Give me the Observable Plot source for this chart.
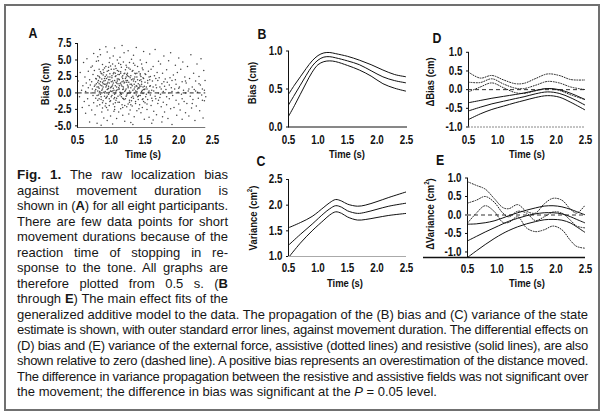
<!DOCTYPE html>
<html><head><meta charset="utf-8">
<script src="https://cdn.jsdelivr.net/npm/d3@7"></script>
<script src="https://cdn.jsdelivr.net/npm/@observablehq/plot@0.6"></script>
<style>
html,body{margin:0;padding:0;background:#fff;}
#fig{position:relative;width:605px;height:420px;overflow:hidden;background:#fff;}
#fig svg{position:absolute;left:0;top:0;}
.frame{position:absolute;left:4px;top:4px;width:592px;height:403px;border:2px solid #707070;}
.lab{position:absolute;font-family:"Liberation Sans",Arial,sans-serif;font-weight:bold;color:#111;white-space:nowrap;}
.letter{font-size:15px;transform:translate(-50%,-50%) scaleX(0.82);}
.ytitle{font-size:11.5px;transform:translate(-50%,-50%) rotate(-90deg) scaleX(0.82);}
.xtitle{font-size:11.5px;transform:translate(-50%,-50%) scaleX(0.82);}
.cap{position:absolute;font-family:"Liberation Sans",Arial,sans-serif;font-size:13px;color:#161616;}
.cap div{height:15.5px;line-height:15.5px;white-space:nowrap;overflow:visible;}
</style></head>
<body>
<div id="fig">
  <div class="frame"></div>
  <div class="lab letter" style="left:33px;top:32px">A</div>
  <div class="lab letter" style="left:262px;top:33px">B</div>
  <div class="lab letter" style="left:261px;top:160px">C</div>
  <div class="lab letter" style="left:437px;top:37px">D</div>
  <div class="lab letter" style="left:440px;top:159px">E</div>
  <div class="lab ytitle" style="left:45px;top:84px">Bias (cm)</div>
  <div class="lab ytitle" style="left:252px;top:83px">Bias (cm)</div>
  <div class="lab ytitle" style="left:252px;top:218px">Variance (cm<sup style="font-size:7.5px">2</sup>)</div>
  <div class="lab ytitle" style="left:430px;top:82px">ΔBias (cm)</div>
  <div class="lab ytitle" style="left:429px;top:214px">ΔVariance (cm<sup style="font-size:7.5px">2</sup>)</div>
  <div class="lab xtitle" style="left:143px;top:154px">Time (s)</div>
  <div class="lab xtitle" style="left:347px;top:154px">Time (s)</div>
  <div class="lab xtitle" style="left:527px;top:154px">Time (s)</div>
  <div class="lab xtitle" style="left:345px;top:283px">Time (s)</div>
  <div class="lab xtitle" style="left:527px;top:283px">Time (s)</div>
  <div class="cap" style="left:17px;top:167px;width:211px">
    <div><b style="font-size:13.5px">Fig. 1.</b> The raw localization bias</div>
    <div>against movement duration is</div>
    <div>shown in (<b>A</b>) for all eight participants.</div>
    <div>There are few data points for short</div>
    <div>movement durations because of the</div>
    <div>reaction time of stopping in re-</div>
    <div>sponse to the tone. All graphs are</div>
    <div>therefore plotted from 0.5 s. (<b>B</b></div>
    <div>through <b>E</b>) The main effect fits of the</div>
  </div>
  <div class="cap" style="left:17px;top:306.5px;width:571px">
    <div>generalized additive model to the data. The propagation of the (B) bias and (C) variance of the state</div>
    <div>estimate is shown, with outer standard error lines, against movement duration. The differential effects on</div>
    <div>(D) bias and (E) variance of the external force, assistive (dotted lines) and resistive (solid lines), are also</div>
    <div>shown relative to zero (dashed line). A positive bias represents an overestimation of the distance moved.</div>
    <div>The difference in variance propagation between the resistive and assistive fields was not significant over</div>
    <div class="last">the movement; the difference in bias was significant at the <i>P</i> = 0.05 level.</div>
  </div>
</div>
<script>
// ---------- data ----------
const timeTicks = [0.5, 1.0, 1.5, 2.0, 2.5];
const aBiasTicks = [-5, -2.5, 0, 2.5, 5, 7.5];
const bBiasTicks = [0, 0.5, 1.0];
const cVarTicks = [1.0, 1.5, 2.0, 2.5];
const deltaTicks = [-1.0, -0.5, 0, 0.5, 1.0];

// Panel A: raw bias vs movement duration [time (s), bias (cm)]
const scatterPoints = [
[0.51,1.8],[0.53,-0.6],[0.54,3.1],[0.56,0.4],[0.57,-2.2],[0.58,1.1],[0.59,4.6],[0.6,-1.3],
[0.61,2.4],[0.62,0.2],[0.62,-3.1],[0.63,1.5],[0.64,5.2],[0.65,-0.9],[0.66,3.3],[0.66,0.8],[0.67,-1.9],[0.68,2.0],[0.68,-4.4],[0.69,1.2],[0.7,0.0],[0.7,3.9],
[0.71,-2.6],[0.71,1.7],[0.72,4.1],[0.72,0.6],[0.73,-0.4],[0.73,2.8],[0.74,6.0],[0.74,-1.5],[0.75,1.0],[0.75,3.4],[0.76,-3.3],[0.76,0.3],[0.77,2.2],[0.77,-0.8],[0.78,4.8],[0.78,1.4],[0.79,-2.0],[0.79,0.9],[0.8,2.6],[0.8,-1.1],[0.8,5.5],[0.79,-4.6],
[0.81,1.9],[0.81,-0.3],[0.82,3.6],[0.82,0.7],[0.83,-1.8],[0.83,2.3],[0.84,5.8],[0.84,1.2],[0.85,-0.6],[0.85,3.0],[0.86,-2.9],[0.86,0.4],[0.87,1.6],[0.87,4.3],[0.88,-1.2],[0.88,2.7],[0.89,0.1],[0.89,-3.8],[0.9,1.3],[0.9,3.8],[0.83,6.6],[0.85,-4.9],[0.86,2.1],[0.88,0.9],[0.82,-0.9],[0.84,3.2],[0.87,-2.3],[0.89,1.8],[0.81,4.9],[0.9,-0.5],
[0.91,2.5],[0.91,0.2],[0.92,-1.6],[0.92,4.0],[0.93,1.1],[0.93,-0.7],[0.94,3.3],[0.94,6.2],[0.95,0.6],[0.95,-2.6],[0.96,2.0],[0.96,-0.2],[0.97,1.5],[0.97,4.6],[0.98,-1.3],[0.98,2.9],[0.99,0.8],[0.99,-3.5],[1.0,1.7],[1.0,3.6],[0.92,7.0],[0.94,-4.2],[0.95,2.4],[0.96,1.0],[0.97,-0.9],[0.98,5.3],[0.93,2.2],[0.91,-2.0],[0.99,0.3],[0.96,3.9],[0.94,1.4],[0.97,-1.9],[0.92,0.9],[1.0,-0.6],
[1.01,2.6],[1.01,-0.4],[1.02,1.2],[1.02,4.4],[1.03,-1.7],[1.03,0.7],[1.04,3.1],[1.04,-2.8],[1.05,1.9],[1.05,6.8],[1.06,0.0],[1.06,2.5],[1.07,-1.1],[1.07,3.7],[1.08,0.9],[1.08,-3.9],[1.09,2.1],[1.09,5.0],[1.1,-0.5],[1.1,1.4],[1.02,-4.7],[1.03,2.9],[1.04,0.4],[1.05,-2.1],[1.06,4.1],[1.07,1.6],[1.08,-0.8],[1.09,3.4],[1.01,1.0],[1.05,-0.2],[1.03,5.6],[1.07,0.3],[1.1,2.8],[1.06,-1.5],
[1.11,0.8],[1.11,3.3],[1.12,-1.4],[1.12,2.0],[1.13,5.4],[1.13,0.1],[1.14,-2.4],[1.14,1.5],[1.15,3.9],[1.15,-0.6],[1.16,2.4],[1.16,7.2],[1.17,-3.4],[1.17,0.5],[1.18,1.8],[1.18,4.7],[1.19,-1.0],[1.19,2.9],[1.2,0.2],[1.2,-4.3],[1.12,1.1],[1.13,-0.3],[1.14,3.0],[1.15,1.2],[1.16,-1.8],[1.17,2.6],[1.18,0.6],[1.19,6.1],[1.11,-2.9],[1.2,1.6],[1.14,4.3],[1.17,-0.8],
[1.21,2.2],[1.21,-0.9],[1.22,0.6],[1.22,4.2],[1.23,-2.1],[1.23,1.6],[1.24,3.0],[1.24,-0.1],[1.25,6.4],[1.25,1.0],[1.26,-3.2],[1.26,2.5],[1.27,0.3],[1.27,-1.4],[1.28,3.6],[1.28,1.3],[1.29,-4.5],[1.29,0.8],[1.3,2.0],[1.3,5.1],[1.22,-0.5],[1.23,2.8],[1.24,1.9],[1.25,-1.7],[1.26,0.0],[1.27,4.6],[1.28,-2.6],[1.29,2.6],[1.21,3.5],[1.3,-0.7],
[1.31,1.1],[1.31,-2.0],[1.32,3.4],[1.32,0.4],[1.33,-0.8],[1.33,5.7],[1.34,2.1],[1.34,-3.6],[1.35,0.9],[1.35,3.0],[1.36,-1.3],[1.36,1.7],[1.37,6.9],[1.37,-0.3],[1.38,2.4],[1.38,-2.7],[1.39,0.6],[1.39,4.0],[1.4,-1.0],[1.4,1.4],[1.32,-4.8],[1.34,0.0],[1.36,2.9],[1.38,1.0],[1.33,4.5],[1.39,-0.6],
[1.41,0.7],[1.41,3.2],[1.42,-1.8],[1.42,1.9],[1.43,-0.4],[1.43,5.0],[1.44,2.5],[1.44,-3.0],[1.45,0.2],[1.45,1.3],[1.46,-2.2],[1.46,3.8],[1.47,0.9],[1.47,-0.9],[1.48,2.2],[1.48,6.3],[1.49,-4.0],[1.49,0.5],[1.5,1.6],[1.5,-1.5],[1.43,2.9],[1.45,4.4],[1.47,-0.1],[1.44,1.0],
[1.51,2.8],[1.51,-0.6],[1.52,0.9],[1.52,4.6],[1.53,-2.5],[1.54,1.5],[1.54,-1.0],[1.55,3.3],[1.55,0.1],[1.56,-3.7],[1.57,2.0],[1.57,5.9],[1.58,-0.3],[1.58,1.1],[1.59,-1.9],[1.59,3.6],[1.6,0.4],[1.6,-4.6],[1.53,0.6],[1.56,2.4],
[1.61,1.8],[1.61,-1.2],[1.62,4.0],[1.63,0.3],[1.63,-2.8],[1.64,2.6],[1.65,-0.5],[1.65,6.6],[1.66,1.2],[1.67,-3.3],[1.67,0.8],[1.68,3.1],[1.69,-1.6],[1.69,1.9],[1.7,0.0],[1.7,4.8],[1.62,-4.1],[1.66,-0.9],
[1.71,2.3],[1.72,-0.7],[1.72,0.9],[1.73,4.4],[1.74,-2.1],[1.75,1.4],[1.75,-4.4],[1.76,3.0],[1.77,0.2],[1.77,-1.4],[1.78,5.6],[1.79,1.0],[1.79,-2.9],[1.8,2.1],[1.73,-0.2],[1.76,-3.6],
[1.81,0.5],[1.82,3.5],[1.82,-1.8],[1.83,1.6],[1.84,-3.9],[1.85,0.0],[1.85,4.9],[1.86,-0.9],[1.87,2.3],[1.88,-2.4],[1.88,6.1],[1.89,0.8],[1.9,-4.8],[1.9,1.9],
[1.91,-0.4],[1.92,2.7],[1.93,-2.2],[1.94,0.6],[1.95,4.2],[1.96,-1.1],[1.96,1.3],[1.97,-3.4],[1.98,3.1],[1.99,0.1],[2.0,-1.7],[2.0,5.3],
[2.01,0.9],[2.02,-2.6],[2.03,3.6],[2.04,-0.2],[2.05,1.7],[2.05,-4.0],[2.06,4.7],[2.07,0.4],[2.08,-1.3],[2.09,2.4],[2.1,-3.0],[2.1,0.0],
[2.11,1.5],[2.12,-1.6],[2.13,4.0],[2.14,0.3],[2.15,-3.5],[2.16,2.2],[2.17,-0.5],[2.18,5.8],[2.19,-2.3],[2.2,0.9],
[2.21,-1.0],[2.22,3.0],[2.23,0.5],[2.24,-4.2],[2.25,1.8],[2.26,-2.0],[2.27,4.4],[2.28,0.1],[2.29,-0.8],[2.3,2.5],
[2.31,-2.7],[2.32,1.2],[2.33,5.2],[2.34,-0.3],[2.35,0.6],[2.36,-3.8],[2.37,3.4],[2.38,-1.2],[2.39,1.9],[2.4,-0.6],
[0.76,1.2],[0.77,0.5],[0.78,2.1],[0.79,-0.4],[0.8,1.6],[0.81,0.9],[0.82,2.5],[0.83,0.2],[0.84,1.7],[0.85,-1.0],[0.86,2.9],[0.87,0.6],[0.88,1.4],[0.89,3.1],[0.9,0.0],[0.91,1.9],[0.92,-0.8],[0.93,2.7],[0.94,0.5],[0.95,1.6],[0.96,3.4],[0.97,0.1],[0.98,2.0],[0.99,-1.2],[1.0,0.9],[1.01,2.3],[1.02,0.3],[1.03,1.5],[1.04,3.6],[1.05,-0.7],[1.06,1.1],[1.07,2.6],[1.08,0.4],[1.09,1.8],[1.1,-1.4],[1.11,2.1],[1.12,0.6],[1.13,1.4],[1.14,3.2],[1.15,-0.2],[1.16,1.0],[1.17,2.2],[1.18,-0.9],[1.19,1.5],[1.2,3.0],[1.21,0.4],[1.22,1.9],[1.23,-0.3],[1.24,2.6],[1.25,0.8],[1.26,1.6],[1.27,-1.1],[1.28,2.3],[1.29,0.1],[1.3,1.3],[1.31,3.3],[1.32,-0.5],[1.33,1.8],[1.34,0.6],[1.35,2.4],[1.36,-1.6],[1.37,1.1],[1.38,0.2],[1.39,2.0],[1.4,0.8],[1.41,-0.4],[1.42,1.2],[1.43,2.7],[1.44,0.0],[1.45,1.7],[1.46,-1.0],[1.47,2.3],[1.48,0.5],[1.49,1.0],[1.5,2.9],[1.52,-0.2],[1.54,1.9],[1.56,0.3],[1.58,2.5],[1.6,-0.8],
[0.8,0.3],[0.82,1.4],[0.84,-0.2],[0.86,1.1],[0.88,3.5],[0.9,2.2],[0.92,1.3],[0.94,-0.5],[0.96,0.7],[0.98,2.4],[1.0,0.2],[1.02,1.8],[1.04,-0.9],[1.06,3.0],[1.08,1.5],[1.1,0.5],[1.12,2.8],[1.14,-0.1],[1.16,1.7],[1.18,0.9],[1.2,-1.9],[1.22,2.4],[1.24,1.2],[1.26,3.8],[1.28,0.0],[1.3,-1.2],[1.32,2.1],[1.34,1.3],[1.36,0.3],[1.38,3.0],[1.4,-0.5],[1.42,0.9],[1.44,2.0],[1.46,0.4],[1.48,-1.3],[1.5,0.6],[0.87,-1.5],[0.93,-2.2],[0.99,4.1],[1.05,-2.5],[1.11,4.5],[1.17,-2.2],[1.23,3.9],[1.29,-1.8],[1.35,4.2],[1.41,-2.4],[1.47,3.5],[1.53,-1.7],[1.57,1.0],[1.62,0.9],[1.66,2.2],[1.7,-1.1],[1.74,0.6],[1.78,1.7],[1.82,-0.6],[1.86,1.2],[1.9,0.2],[1.95,2.0],[2.0,0.7],[2.05,-0.9],[2.1,1.8],[2.15,0.6],[2.2,-1.6],[2.25,0.3],[2.3,1.4],[2.35,-1.1],[2.38,0.4]
];

// Panel B: bias fit with standard error lines
const bTime  = [0.5, 0.6, 0.7, 0.8, 0.9, 1.0, 1.1, 1.2, 1.3, 1.5, 1.7, 1.9, 2.1, 2.3, 2.5];
const bUpper = [0.43,0.55,0.66,0.77,0.87,0.94,0.975,0.98,0.965,0.93,0.88,0.82,0.75,0.69,0.66];
const bFit   = [0.29,0.42,0.55,0.68,0.80,0.88,0.92,0.925,0.91,0.87,0.82,0.74,0.66,0.61,0.58];
const bLower = [0.14,0.28,0.43,0.58,0.72,0.82,0.86,0.87,0.86,0.81,0.75,0.67,0.57,0.51,0.47];

// Panel C: variance fit with standard error lines
const cTime  = [0.5, 0.7, 0.9, 1.1, 1.2, 1.3, 1.4, 1.5, 1.67, 1.8, 2.0, 2.2, 2.5];
const cUpper = [1.56,1.66,1.78,1.96,2.05,2.11,2.08,2.02,1.98,2.00,2.07,2.15,2.26];
const cFit   = [1.22,1.43,1.63,1.84,1.93,1.99,1.96,1.89,1.84,1.86,1.92,1.98,2.04];
const cLower = [0.98,1.26,1.50,1.71,1.81,1.87,1.84,1.77,1.71,1.72,1.76,1.80,1.84];

// Panel D: differential bias (assistive dotted, resistive solid)
const dTime         = [0.5, 0.7, 0.9, 1.1, 1.3, 1.45, 1.65, 1.85, 2.05, 2.25, 2.5];
const dAssistUpper  = [0.47,0.31,0.38,0.26,0.16,0.17,0.30,0.42,0.38,0.27,0.26];
const dAssistFit    = [0.20,0.19,0.29,0.15,0.04,0.03,0.12,0.22,0.18,0.07,0.00];
const dAssistLower  = [-0.06,0.07,0.18,0.05,-0.08,-0.10,-0.03,0.03,-0.02,-0.14,-0.27];
const dResistUpper  = [-0.35,-0.29,-0.23,-0.18,-0.13,-0.09,-0.02,0.03,0.00,-0.10,-0.27];
const dResistFit    = [-0.57,-0.47,-0.38,-0.31,-0.24,-0.19,-0.11,-0.06,-0.10,-0.22,-0.42];
const dResistLower  = [-0.80,-0.65,-0.53,-0.44,-0.35,-0.29,-0.21,-0.16,-0.20,-0.34,-0.55];

// Panel E: differential variance (assistive dotted, resistive solid)
const eTime         = [0.5, 0.65, 0.8, 0.95, 1.1, 1.2, 1.35, 1.5, 1.65, 1.8, 1.95, 2.1, 2.25, 2.35, 2.5];
const eAssistUpper  = [0.90,0.80,0.70,0.45,0.20,0.17,0.28,0.10,0.05,0.30,0.45,0.40,0.15,0.05,0.28];
const eAssistFit    = [0.32,0.40,0.50,0.35,0.05,-0.05,0.10,0.05,-0.15,-0.05,0.08,0.05,-0.15,-0.30,-0.35];
const eAssistLower  = [-0.22,0.05,0.25,0.10,-0.20,-0.20,-0.05,-0.35,-0.45,-0.40,-0.30,-0.40,-0.70,-0.85,-0.90];
const eResistUpper  = [-0.25,-0.24,-0.21,-0.16,-0.08,-0.02,0.06,0.13,0.19,0.24,0.25,0.22,0.15,0.09,0.00];
const eResistFit    = [-0.70,-0.58,-0.46,-0.35,-0.24,-0.17,-0.09,-0.02,0.03,0.06,0.06,0.03,-0.05,-0.12,-0.22];
const eResistLower  = [-1.15,-0.97,-0.80,-0.64,-0.50,-0.42,-0.32,-0.24,-0.18,-0.13,-0.12,-0.14,-0.22,-0.32,-0.48];

// ---------- caption justification (fit each line to its column) ----------
document.querySelectorAll(".cap").forEach(cap => {
  const target = cap.clientWidth;
  cap.querySelectorAll("div").forEach(div => {
    if (div.classList.contains("last")) return;
    const range = document.createRange();
    range.selectNodeContents(div);
    const w = range.getBoundingClientRect().width;
    const txt = div.textContent;
    const spaces = (txt.match(/ /g) || []).length;
    if (w > target) div.style.letterSpacing = (-(w - target) / txt.length) + "px";
    else if (spaces) div.style.wordSpacing = ((target - w) / spaces) + "px";
  });
});

// ---------- drawing ----------
const fig = document.getElementById("fig");
const tickFont = '"Liberation Sans",Arial,sans-serif';
const fmt1 = d => d.toFixed(1);
const series = (t, v) => t.map((x, i) => ({t: x, v: v[i]}));
const solid = (t, v) => Plot.line(series(t, v), {x: "t", y: "v", stroke: "#111", strokeWidth: 1, curve: "catmull-rom", clip: true});
const dotted = (t, v) => Plot.line(series(t, v), {x: "t", y: "v", stroke: "#222", strokeWidth: 1, strokeDasharray: "1,1.6", curve: "catmull-rom", clip: true});

function panel(opts) {
  const svg = Plot.plot({
    width: 605, height: 420,
    style: {background: "transparent", fontFamily: tickFont, fontSize: "12px", fontWeight: "bold", color: "#111", overflow: "visible"},
    ...opts
  });
  // narrow the bold tick labels (condensed look)
  svg.querySelectorAll("text").forEach(t => {
    const tr = t.getAttribute("transform") || "";
    t.setAttribute("transform", (tr + " scale(0.82,1)").trim());
  });
  fig.appendChild(svg);
}

const tExtent = d3.extent(scatterPoints, d => d[0]);
const aYDomain = [-5.25, 7.5];

// A
panel({
  marginLeft: 77, marginRight: 393, marginTop: 43, marginBottom: 293,
  x: {domain: [0.5, 2.5], ticks: timeTicks, tickFormat: fmt1, tickSize: 0, tickPadding: 8, label: null},
  y: {domain: aYDomain, ticks: aBiasTicks, tickFormat: fmt1, tickSize: 2, tickPadding: 4, line: true, label: null},
  marks: [
    Plot.dot(scatterPoints, {x: d => d[0], y: d => d[1], r: 0.75, fill: "#444", stroke: null}),
    Plot.ruleY([0], {x1: tExtent[0], x2: tExtent[1], stroke: "#222", strokeDasharray: "4,3"}),
    Plot.ruleY([aYDomain[0]], {x1: tExtent[0], x2: tExtent[1], stroke: "#777"})
  ]
});

// B
panel({
  marginLeft: 288, marginRight: 199, marginTop: 50.5, marginBottom: 293.5,
  x: {domain: [0.5, 2.5], ticks: timeTicks, tickFormat: fmt1, tickSize: 0, tickPadding: 8, line: true, label: null},
  y: {domain: [0, 1], ticks: bBiasTicks, tickFormat: fmt1, tickSize: 2, tickPadding: 4, line: true, label: null},
  marks: [solid(bTime, bUpper), solid(bTime, bFit), solid(bTime, bLower)]
});

// C
panel({
  marginLeft: 288, marginRight: 199, marginTop: 179, marginBottom: 164,
  x: {domain: [0.5, 2.5], ticks: timeTicks, tickFormat: fmt1, tickSize: 0, tickPadding: 7, label: null},
  y: {domain: [1, 2.5], ticks: cVarTicks, tickFormat: fmt1, tickSize: 2, tickPadding: 4, line: true, label: null},
  marks: [
    Plot.ruleY([cVarTicks[0]], {stroke: "#aaa"}),
    solid(cTime, cUpper), solid(cTime, cFit), solid(cTime, cLower)
  ]
});

// D
panel({
  marginLeft: 468, marginRight: 20, marginTop: 51.8, marginBottom: 293.5,
  x: {domain: [0.5, 2.5], ticks: timeTicks, tickFormat: fmt1, tickSize: 0, tickPadding: 8, label: null},
  y: {domain: [-1, 1], ticks: deltaTicks, tickFormat: fmt1, tickSize: 2, tickPadding: 4, line: true, label: null},
  marks: [
    Plot.ruleY([deltaTicks[0]], {stroke: "#888", strokeDasharray: "2,1"}),
    Plot.ruleY([0], {stroke: "#333", strokeDasharray: "4,3"}),
    dotted(dTime, dAssistUpper), dotted(dTime, dAssistFit), dotted(dTime, dAssistLower),
    solid(dTime, dResistUpper), solid(dTime, dResistFit), solid(dTime, dResistLower)
  ]
});

// E
const eYDomain = [-1.15, 1];
panel({
  marginLeft: 467, marginRight: 20, marginTop: 177.5, marginBottom: 163,
  x: {domain: [0.5, 2.5], ticks: timeTicks, tickFormat: fmt1, tickSize: 0, tickPadding: 7, label: null},
  y: {domain: eYDomain, ticks: deltaTicks, tickFormat: fmt1, tickSize: 2, tickPadding: 4, line: true, label: null},
  marks: [
    Plot.ruleY([eYDomain[0]], {stroke: "#111", strokeWidth: 1.5, insetLeft: -44}),
    Plot.ruleY([0], {stroke: "#777", strokeDasharray: "4,3", strokeWidth: 1.3}),
    dotted(eTime, eAssistUpper), dotted(eTime, eAssistFit), dotted(eTime, eAssistLower),
    solid(eTime, eResistUpper), solid(eTime, eResistFit), solid(eTime, eResistLower)
  ]
});
</script>
</body></html>
